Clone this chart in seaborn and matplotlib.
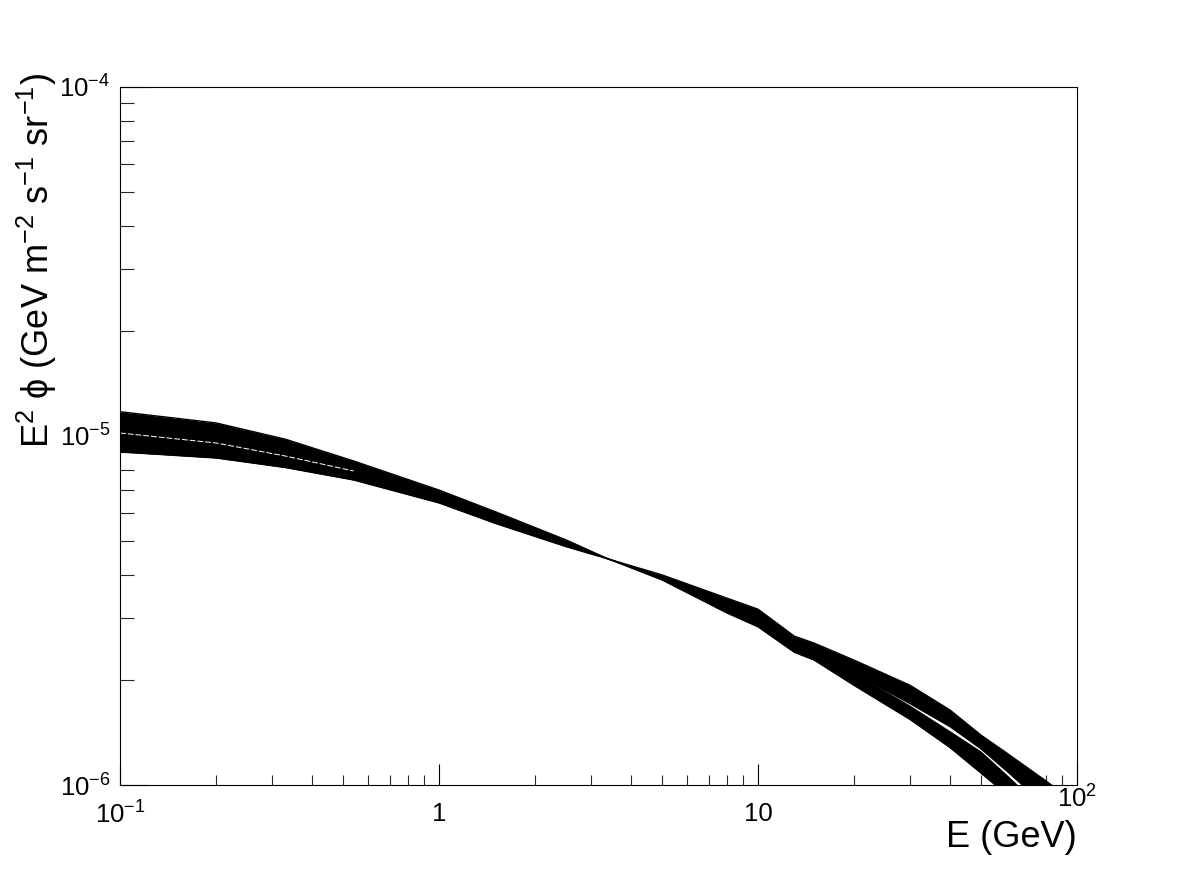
import numpy as np
import pandas as pd
import matplotlib
matplotlib.use("Agg")
import matplotlib.pyplot as plt
import matplotlib.transforms as mtransforms
import seaborn as sns
from matplotlib.ticker import FixedLocator, FixedFormatter, LogLocator, NullFormatter

# --- Data (E in GeV, E^2 phi in GeV m^-2 s^-1 sr^-1) ---
energy = [0.1, 0.2, 0.33, 0.54, 1.0, 1.5, 2.5, 3.4, 5, 8, 10, 13, 15, 20,
          30, 40, 50, 60, 80, 100]

# group A: flat edge / steep edge of the bundle that ends up higher at high E
a_flat = [9.00e-6, 8.65e-6, 8.12e-6, 7.48e-6, 6.43e-6, 5.62e-6, 4.82e-6, 4.44e-6,
          4.00e-6, 3.43e-6, 3.19e-6, 2.67e-6, 2.55e-6, 2.28e-6, 1.93e-6, 1.64e-6,
          1.39e-6, 1.238e-6, 1.027e-6, 8.82e-7]
a_steep = [1.020e-5, 9.55e-6, 8.76e-6, 7.94e-6, 6.69e-6, 5.84e-6, 4.92e-6, 4.44e-6,
           3.94e-6, 3.28e-6, 3.01e-6, 2.54e-6, 2.42e-6, 2.09e-6, 1.71e-6, 1.47e-6,
           1.27e-6, 1.10e-6, 8.71e-7, 7.24e-7]

# group B: the bundle that ends up lower at high E
b_flat = [1.020e-5, 9.55e-6, 8.76e-6, 7.94e-6, 6.69e-6, 5.84e-6, 4.92e-6, 4.44e-6,
          3.94e-6, 3.28e-6, 3.01e-6, 2.54e-6, 2.42e-6, 2.09e-6, 1.68e-6, 1.42e-6,
          1.243e-6, 1.068e-6, 8.32e-7, 6.87e-7]
b_steep = [1.174e-5, 1.090e-5, 9.79e-6, 8.48e-6, 7.00e-6, 6.07e-6, 5.04e-6, 4.44e-6,
           3.87e-6, 3.11e-6, 2.84e-6, 2.40e-6, 2.28e-6, 1.93e-6, 1.54e-6, 1.28e-6,
           1.082e-6, 9.42e-7, 7.38e-7, 6.14e-7]

xticks = [0.1, 1, 10, 100]
xtick_labels = [r"10$^{-1}$", "1", "10", r"10$^{2}$"]
yticks = [1e-6, 1e-5, 1e-4]
ytick_labels = [r"10$^{-6}$", r"10$^{-5}$", r"10$^{-4}$"]

# --- Style ---
sns.set_theme(style="white")
plt.rcParams["font.family"] = ["Liberation Sans", "DejaVu Sans"]
plt.rcParams["mathtext.fontset"] = "custom"
plt.rcParams["mathtext.rm"] = "Liberation Sans"
plt.rcParams["mathtext.it"] = "Liberation Sans:italic"
plt.rcParams["axes.edgecolor"] = "black"
plt.rcParams["axes.linewidth"] = 0.8
plt.rcParams["text.color"] = "black"
plt.rcParams["axes.labelcolor"] = "black"

curves = pd.DataFrame({
    "energy": energy * 4,
    "flux": a_flat + a_steep + b_flat + b_steep,
    "curve": (["a_flat"] * len(energy) + ["a_steep"] * len(energy)
              + ["b_flat"] * len(energy) + ["b_steep"] * len(energy)),
})

fig = plt.figure(figsize=(11.98, 8.74), dpi=100)
ax = fig.add_axes([0.1002, 0.1018, 0.7988, 0.7987])

# fill each bundle of curves, then draw its edge curves
ax.fill_between(energy, a_flat, a_steep, color="black", lw=0)
ax.fill_between(energy, b_flat, b_steep, color="black", lw=0)
sns.lineplot(data=curves, x="energy", y="flux", units="curve", estimator=None,
             color="black", lw=1.0, legend=False, ax=ax)
# thin gap between the two bundles at low energy
ax.plot(energy[:4], b_flat[:4], color="white", lw=0.7, ls=(0, (6, 2)))

ax.set_xscale("log")
ax.set_yscale("log")
ax.set_xlim(0.1, 100)
ax.set_ylim(1e-6, 1e-4)

ax.xaxis.set_major_locator(FixedLocator(xticks))
ax.xaxis.set_major_formatter(FixedFormatter(xtick_labels))
ax.xaxis.set_minor_locator(LogLocator(base=10, subs=np.arange(2, 10), numticks=20))
ax.xaxis.set_minor_formatter(NullFormatter())
ax.yaxis.set_major_locator(FixedLocator(yticks))
ax.yaxis.set_major_formatter(FixedFormatter(ytick_labels))
ax.yaxis.set_minor_locator(LogLocator(base=10, subs=np.arange(2, 10), numticks=20))
ax.yaxis.set_minor_formatter(NullFormatter())

ax.tick_params(axis="x", which="major", direction="in", length=15, width=0.8,
               bottom=True, top=False, labelsize=18.5, pad=12, colors="black")
ax.tick_params(axis="x", which="minor", direction="in", length=7.5, width=0.8,
               bottom=True, top=False)
ax.tick_params(axis="y", which="major", direction="in", length=20.7, width=0.8,
               left=True, right=False, labelsize=18.5, pad=7, colors="black")
ax.tick_params(axis="y", which="minor", direction="in", length=10.3, width=0.8,
               left=True, right=False)

# the last x label sits a bit higher, clear of the axis title
last_tick = ax.xaxis.get_major_ticks()[-1]
shift = mtransforms.ScaledTranslation(0, 12 / 72, fig.dpi_scale_trans)
last_tick.label1.set_transform(last_tick.label1.get_transform() + shift)

ax.set_xlabel("E (GeV)", fontsize=26, loc="right", color="black")
ax.xaxis.set_label_coords(1.0, -0.050)
ax.set_ylabel("E$^{2}$ \u03d5 (GeV m$^{-2}$ s$^{-1}$ sr$^{-1}$)", fontsize=26,
              loc="top", color="black")
ax.yaxis.set_label_coords(-0.064, 1.02)

for side in ["top", "right", "bottom", "left"]:
    ax.spines[side].set_visible(True)
    ax.spines[side].set_color("black")

fig.savefig("out.png", dpi=100, facecolor="white")
